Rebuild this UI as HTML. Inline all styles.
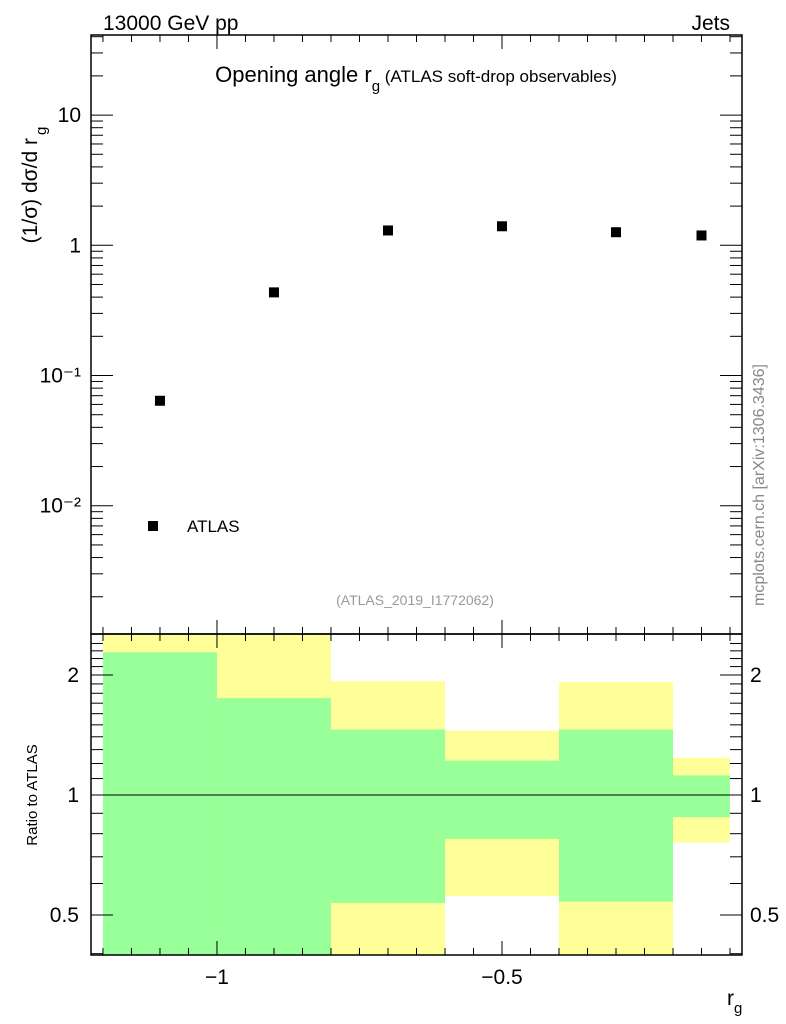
<!DOCTYPE html>
<html><head><meta charset="utf-8"><style>
body{margin:0;background:#fff;}
svg{display:block;font-family:"Liberation Sans",sans-serif;}
</style></head><body>
<svg id="c" width="786" height="1024" xmlns="http://www.w3.org/2000/svg">
<g id="bands"></g>
<g id="marks"></g>
<g id="axes"></g>
<text x="103" y="30" font-size="21">13000 GeV pp</text>
<text x="730" y="30" font-size="21" text-anchor="end">Jets</text>
<text x="416" y="82" font-size="22" text-anchor="middle">Opening angle r<tspan font-size="15" dy="9">g</tspan><tspan font-size="17" dy="-9"> (ATLAS soft-drop observables)</tspan></text>
<text transform="translate(37,185) rotate(-90)" font-size="21" text-anchor="middle">(1/σ) dσ/d r<tspan font-size="15" dx="3" dy="9">g</tspan></text>
<text transform="translate(764,485) rotate(-90)" font-size="16" fill="#888" text-anchor="middle">mcplots.cern.ch [arXiv:1306.3436]</text>
<text x="415" y="605" font-size="14" fill="#999" text-anchor="middle">(ATLAS_2019_I1772062)</text>
<rect x="148" y="521" width="10" height="10" fill="#000"/>
<text x="187" y="532" font-size="17">ATLAS</text>
<text transform="translate(37,795) rotate(-90)" font-size="15" text-anchor="middle">Ratio to ATLAS</text>
<text x="727" y="1005" font-size="21">r<tspan font-size="15" dy="8">g</tspan></text>
</svg>
<script>
const xCenters=[-1.1,-0.9,-0.7,-0.5,-0.3,-0.15];
const yValues=[0.064,0.435,1.30,1.40,1.26,1.19];
const binLo=[-1.2,-1.0,-0.8,-0.6,-0.4,-0.2];
const binHi=[-1.0,-0.8,-0.6,-0.4,-0.2,-0.1];
const yellowUp=[2.6,2.6,1.93,1.45,1.92,1.24];
const greenUp=[2.28,1.75,1.46,1.22,1.46,1.12];
const greenDn=[0.3,0.3,0.536,0.776,0.54,0.88];
const yellowDn=[0.3,0.3,0.3,0.558,0.3,0.76];
const mainTicks=[0.01,0.1,1,10];
const mainTickLabels=["10⁻²","10⁻¹","1","10"];
const ratioTicks=[0.5,1,2];
const xTicks=[-1,-0.5];
const xTickLabels=["−1","−0.5"];

const L=91,R=742,T=35,M=634,B=955;
const X0=-1.221,X1=-1+(R-217)/570;
const LY0=-2.985,LY1=1.615;
const RY0=Math.log10(0.397),RY1=Math.log10(2.535);
const sx=v=>L+(v-X0)/(X1-X0)*(R-L);
const sy=v=>M-(Math.log10(v)-LY0)/(LY1-LY0)*(M-T);
const ry=v=>{const l=Math.max(RY0,Math.min(RY1,Math.log10(v)));return B-(l-RY0)/(RY1-RY0)*(B-M);};
const NS="http://www.w3.org/2000/svg";
function mk(tag,attrs,parent){const e=document.createElementNS(NS,tag);for(const k in attrs)e.setAttribute(k,attrs[k]);parent.appendChild(e);return e;}
const bands=document.getElementById('bands'),marks=document.getElementById('marks'),axes=document.getElementById('axes');
for(let i=0;i<binLo.length;i++){
 const x=sx(binLo[i]),w=sx(binHi[i])-x;
 let r=mk('rect',{x:x,y:ry(yellowUp[i]),width:w,height:ry(yellowDn[i])-ry(yellowUp[i]),fill:'#ffff99'},bands);
 
 
 r=mk('rect',{x:x,y:ry(greenUp[i]),width:w,height:ry(greenDn[i])-ry(greenUp[i]),fill:'#99ff99'},bands);
 
 
}
for(let i=0;i<xCenters.length;i++){
 const p=mk('rect',{x:sx(xCenters[i])-5,y:sy(yValues[i])-5,width:10,height:10,fill:'#000'},marks);
 
 
}
const sw={stroke:'#000','stroke-width':1.5,fill:'none'};
mk('rect',Object.assign({x:L,y:T,width:R-L,height:M-T},sw),axes);
mk('rect',Object.assign({x:L,y:M,width:R-L,height:B-M},sw),axes);
const one=mk('line',{x1:L,x2:R,y1:ry(1),y2:ry(1),stroke:'#000','stroke-width':1},axes);


const ln=(x1,y1,x2,y2)=>mk('line',{x1,y1,x2,y2,stroke:'#000','stroke-width':1},axes);
for(let k=0;k<=24;k++){const v=-1.2+k*0.05;if(v>X1)break;const x=sx(v);const maj=Math.abs(v-Math.round(v*2)/2)<1e-6;const h=maj?14:7;
 ln(x,T,x,T+h);ln(x,M,x,M-h);ln(x,M,x,M+h);ln(x,B,x,B-h);}
for(let i=0;i<xTicks.length;i++){const t=mk('text',{x:sx(xTicks[i]),y:B+29,'font-size':21,'text-anchor':'middle'},axes);t.textContent=xTickLabels[i];
 
 }
for(let d=-3;d<=1;d++)for(let m=1;m<=9;m++){const v=m*Math.pow(10,d);const y=sy(v);if(y<T||y>M)continue;const h=m==1?22:12;ln(L,y,L+h,y);ln(R,y,R-h,y);}
for(let i=0;i<mainTicks.length;i++){const y=sy(mainTicks[i]);const t=mk('text',{x:L-10,y:y+7,'font-size':21,'text-anchor':'end'},axes);t.textContent=mainTickLabels[i];
 
 }
for(let v=0.4;v<=2.5;v+=0.1){const y=ry(v);if(y<M+1||y>B-1)continue;const maj=ratioTicks.some(r=>Math.abs(r-v)<1e-6);const h=maj?22:12;ln(L,y,L+h,y);ln(R,y,R-h,y);}
for(const v of ratioTicks){const y=ry(v);
 let t=mk('text',{x:L-12,y:y+7,'font-size':21,'text-anchor':'end'},axes);t.textContent=String(v);
 
 
 t=mk('text',{x:R+8,y:y+7,'font-size':21},axes);t.textContent=String(v);
 
 }
</script>
</body></html>
